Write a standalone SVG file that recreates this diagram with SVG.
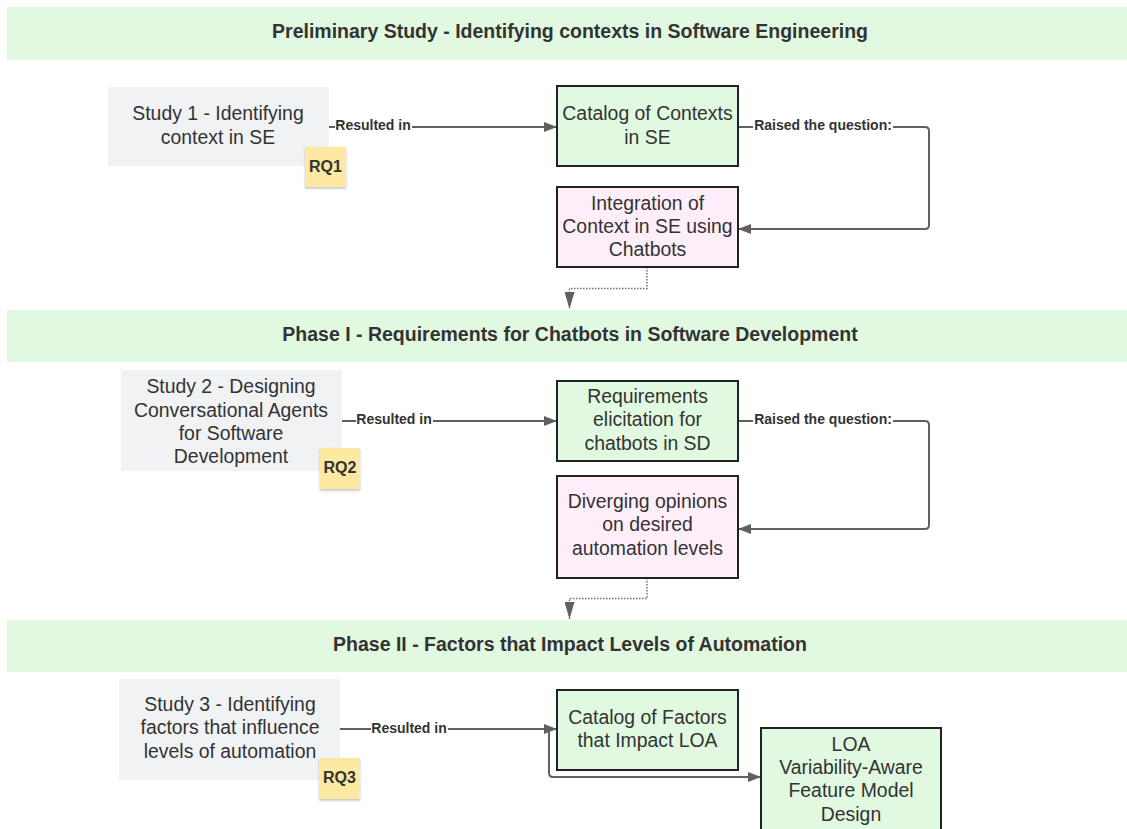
<svg xmlns="http://www.w3.org/2000/svg" width="1127" height="829" viewBox="0 0 1127 829">
  <defs>
    <style>
      .band { fill: #e1f8e1; }
      .band-title { font-family: "Liberation Sans", Arial, sans-serif; font-size: 19.5px; font-weight: bold; fill: #333; text-anchor: middle; }
      .study { fill: #f1f2f4; }
      .node-green { fill: #e1f9e1; stroke: #222; stroke-width: 2; }
      .node-pink { fill: #feeefa; stroke: #222; stroke-width: 2; }
      .txt { font-family: "Liberation Sans", Arial, sans-serif; font-size: 19.4px; fill: #333; text-anchor: middle; }
      .sticky { fill: #fde9a1; filter: url(#shadow); }
      .rq { font-family: "Liberation Sans", Arial, sans-serif; font-size: 16px; font-weight: bold; fill: #333; text-anchor: middle; }
      .conn { fill: none; stroke: #606060; stroke-width: 2; }
      .dotted { fill: none; stroke: #707070; stroke-width: 1.5; stroke-dasharray: 1.5 1.5; }
      .lbl-bg { fill: #fff; }
      .lbl { font-family: "Liberation Sans", Arial, sans-serif; font-size: 14px; font-weight: bold; fill: #333; text-anchor: middle; }
    </style>
    <marker id="arrow" viewBox="0 0 13 10" refX="13" refY="5" markerWidth="13" markerHeight="10" orient="auto" markerUnits="userSpaceOnUse">
      <path d="M0,0 L13,5 L0,10 z" fill="#606060"/>
    </marker>
    <marker id="arrow-down" viewBox="0 0 10 17" refX="5" refY="17" markerWidth="10" markerHeight="17" orient="0" markerUnits="userSpaceOnUse">
      <path d="M0,0 L10,0 L5,17 z" fill="#606060"/>
    </marker>
    <filter id="shadow" x="-20%" y="-20%" width="150%" height="150%">
      <feDropShadow dx="0" dy="1.5" stdDeviation="1.2" flood-color="#000" flood-opacity="0.25"/>
    </filter>
  </defs>

  <!-- Section bands -->
  <g id="band-preliminary">
    <rect class="band" x="7" y="7" width="1120" height="53"/>
    <text class="band-title" x="570" y="38">Preliminary Study - Identifying contexts in Software Engineering</text>
  </g>
  <g id="band-phase1">
    <rect class="band" x="7" y="310" width="1120" height="52"/>
    <text class="band-title" x="570" y="341">Phase I - Requirements for Chatbots in Software Development</text>
  </g>
  <g id="band-phase2">
    <rect class="band" x="7" y="620" width="1120" height="52"/>
    <text class="band-title" x="570" y="651">Phase II - Factors that Impact Levels of Automation</text>
  </g>

  <!-- Connectors -->
  <g id="connectors">
    <!-- Preliminary study -->
    <path class="conn" d="M329,127 H557" marker-end="url(#arrow)"/>
    <path class="conn" d="M738,127 H925 Q929,127 929,131 V225 Q929,229 925,229 H738" marker-end="url(#arrow)"/>
    <path class="dotted" d="M647,267 V288.5 H569.5 V309" marker-end="url(#arrow-down)"/>
    <!-- Phase I -->
    <path class="conn" d="M342,421 H557" marker-end="url(#arrow)"/>
    <path class="conn" d="M738,421 H925 Q929,421 929,425 V525 Q929,529 925,529 H738" marker-end="url(#arrow)"/>
    <path class="dotted" d="M647,578 V598.5 H569.5 V619" marker-end="url(#arrow-down)"/>
    <!-- Phase II -->
    <path class="conn" d="M340,729 H557" marker-end="url(#arrow)"/>
    <path class="conn" d="M549,729 V773 Q549,777 553,777 H761" marker-end="url(#arrow)"/>
    <!-- Connector labels on white backing -->
    <rect class="lbl-bg" x="335" y="119" width="77" height="15"/>
    <text class="lbl" x="373" y="130">Resulted in</text>
    <rect class="lbl-bg" x="753" y="119" width="140" height="15"/>
    <text class="lbl" x="823" y="130">Raised the question:</text>
    <rect class="lbl-bg" x="356" y="413" width="77" height="15"/>
    <text class="lbl" x="394" y="424">Resulted in</text>
    <rect class="lbl-bg" x="753" y="413" width="140" height="15"/>
    <text class="lbl" x="823" y="424">Raised the question:</text>
    <rect class="lbl-bg" x="371" y="722" width="77" height="15"/>
    <text class="lbl" x="409" y="733">Resulted in</text>
  </g>

  <!-- Preliminary study nodes -->
  <g id="study1">
    <rect class="study" x="108" y="87" width="221" height="79"/>
    <text class="txt" x="218" y="120">Study 1 - Identifying</text>
    <text class="txt" x="218" y="144">context in SE</text>
  </g>
  <g id="rq1">
    <rect class="sticky" x="305" y="147" width="41" height="40"/>
    <text class="rq" x="325.5" y="172">RQ1</text>
  </g>
  <g id="catalog-contexts">
    <rect class="node-green" x="557" y="86" width="181" height="80"/>
    <text class="txt" x="647.5" y="120">Catalog of Contexts</text>
    <text class="txt" x="647.5" y="144">in SE</text>
  </g>
  <g id="integration-context">
    <rect class="node-pink" x="557" y="187" width="181" height="80"/>
    <text class="txt" x="647.5" y="210">Integration of</text>
    <text class="txt" x="647.5" y="233">Context in SE using</text>
    <text class="txt" x="647.5" y="256">Chatbots</text>
  </g>

  <!-- Phase I nodes -->
  <g id="study2">
    <rect class="study" x="121" y="370" width="221" height="101"/>
    <text class="txt" x="231" y="393">Study 2 - Designing</text>
    <text class="txt" x="231" y="417">Conversational Agents</text>
    <text class="txt" x="231" y="440">for Software</text>
    <text class="txt" x="231" y="463">Development</text>
  </g>
  <g id="rq2">
    <rect class="sticky" x="320" y="448" width="40" height="41"/>
    <text class="rq" x="340" y="473">RQ2</text>
  </g>
  <g id="requirements-elicitation">
    <rect class="node-green" x="557" y="381" width="181" height="80"/>
    <text class="txt" x="647.5" y="403">Requirements</text>
    <text class="txt" x="647.5" y="426">elicitation for</text>
    <text class="txt" x="647.5" y="450">chatbots in SD</text>
  </g>
  <g id="diverging-opinions">
    <rect class="node-pink" x="557" y="476" width="181" height="102"/>
    <text class="txt" x="647.5" y="508">Diverging opinions</text>
    <text class="txt" x="647.5" y="531">on desired</text>
    <text class="txt" x="647.5" y="555">automation levels</text>
  </g>

  <!-- Phase II nodes -->
  <g id="study3">
    <rect class="study" x="119" y="679" width="221" height="101"/>
    <text class="txt" x="230" y="711">Study 3 - Identifying</text>
    <text class="txt" x="230" y="734">factors that influence</text>
    <text class="txt" x="230" y="758">levels of automation</text>
  </g>
  <g id="rq3">
    <rect class="sticky" x="319" y="758" width="41" height="41"/>
    <text class="rq" x="339.5" y="783">RQ3</text>
  </g>
  <g id="catalog-factors">
    <rect class="node-green" x="557" y="690" width="181" height="80"/>
    <text class="txt" x="647.5" y="724">Catalog of Factors</text>
    <text class="txt" x="647.5" y="747">that Impact LOA</text>
  </g>
  <g id="loa-feature-model">
    <rect class="node-green" x="761" y="728" width="180" height="115"/>
    <text class="txt" x="851" y="751">LOA</text>
    <text class="txt" x="851" y="774">Variability-Aware</text>
    <text class="txt" x="851" y="797">Feature Model</text>
    <text class="txt" x="851" y="821">Design</text>
  </g>
</svg>
